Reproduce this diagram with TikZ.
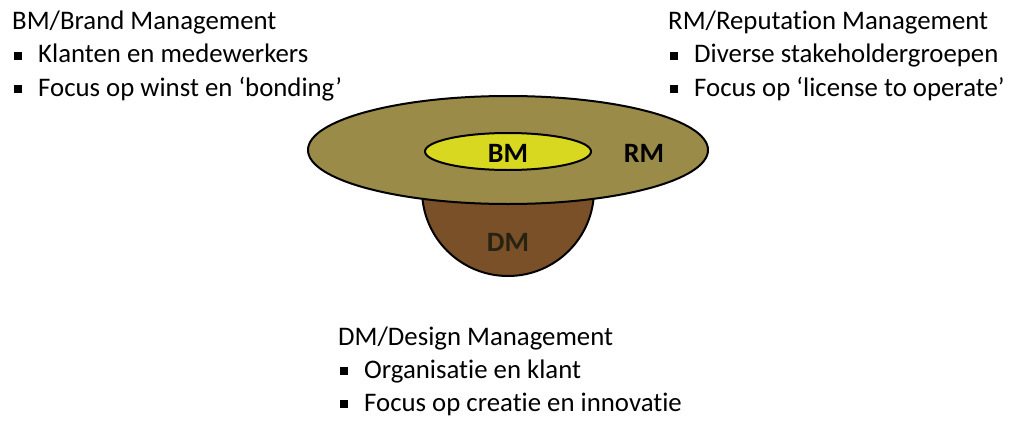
\documentclass[tikz,border=0pt]{standalone}
\usepackage{fontspec}
\setmainfont[Ligatures=NoCommon]{Carlito}
\definecolor{rmcol}{RGB}{155,139,72}
\definecolor{bmcol}{RGB}{216,216,32}
\definecolor{dmcol}{RGB}{122,80,40}
\definecolor{dmtext}{RGB}{40,34,18}
\newcommand{\bul}{\makebox[24pt][l]{\rule[3pt]{8pt}{8pt}}}
\begin{document}
\begin{tikzpicture}[x=1pt,y=-1pt,
  txt/.style={anchor=base west,inner sep=0pt,font=\fontsize{26.8}{30}\selectfont},
  lbl/.style={inner sep=0pt,font=\fontsize{28}{32}\selectfont\bfseries},
  shp/.style={draw=black,line width=2pt}]
\useasboundingbox (0,0) rectangle (1014,428);
% DM bowl
\path[shp,fill=dmcol] (422,190) arc[start angle=180,end angle=0,x radius=86,y radius=86] -- cycle;
% RM ellipse
\path[shp,fill=rmcol] (508,150) ellipse[x radius=200,y radius=54];
% BM ellipse
\path[shp,fill=bmcol] (508,151.5) ellipse[x radius=83,y radius=18.5];
\node[lbl] (bm) at (508,153) {BM};
\node[lbl] (rm) at (644,153) {RM};
\node[lbl,text=dmtext] (dm) at (508,242) {DM};
% texts
\node[txt] (bmh) at (12,30) {BM/Brand Management};
\node[txt] (bm1) at (14,63) {\bul Klanten en medewerkers};
\node[txt] (bm2) at (14,96) {\bul Focus op winst en ‘bonding’};
\node[txt] (rmh) at (668,30) {RM/Reputation Management};
\node[txt] (rm1) at (670,63) {\bul Diverse stakeholdergroepen};
\node[txt] (rm2) at (670,96) {\bul Focus op ‘license to operate’};
\node[txt] (dmh) at (338,345) {DM/Design Management};
\node[txt] (dm1) at (340,378) {\bul Organisatie en klant};
\node[txt] (dm2) at (340,411) {\bul Focus op creatie en innovatie};
\end{tikzpicture}
\end{document}
